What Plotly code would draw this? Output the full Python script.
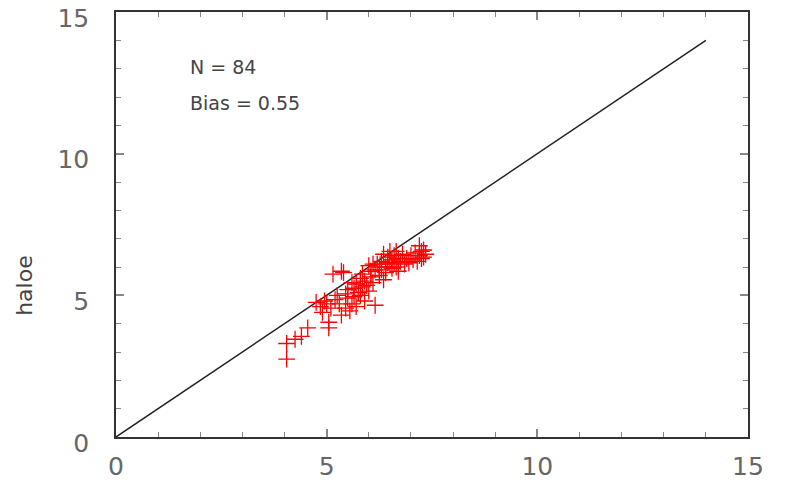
import plotly.graph_objects as go

# Scatter data (reference x, haloe y)
ref_x = [4.05, 4.05, 4.25, 4.40, 4.55, 4.75, 4.90, 5.05, 5.05, 4.95,
         5.10, 5.15, 5.25, 5.30, 5.35, 5.40, 5.45, 5.50, 5.50, 5.55,
         5.60, 5.60, 5.65, 5.70, 5.70, 5.75, 5.80, 5.80, 5.85, 5.90,
         5.90, 5.95, 6.00, 6.00, 6.05, 6.10, 6.15, 6.15, 6.20, 6.25,
         6.30, 6.30, 6.35, 6.40, 6.40, 6.45, 6.50, 6.50, 6.55, 6.55,
         6.60, 6.60, 6.65, 6.65, 6.70, 6.70, 6.75, 6.80, 6.85, 6.90,
         6.95, 7.00, 7.05, 7.10, 7.15, 7.20, 7.20, 7.25, 7.25, 7.30,
         7.30, 7.35, 5.20, 5.45, 5.65, 5.85, 6.05, 6.25, 6.45, 4.85,
         5.00, 5.35, 6.10, 6.35]
haloe_y = [2.75, 3.30, 3.45, 3.55, 3.85, 4.75, 4.40, 3.85, 4.05, 4.80,
           4.55, 5.75, 5.00, 4.70, 4.30, 5.80, 4.55, 4.90, 5.20, 4.45,
           4.70, 5.45, 4.95, 5.40, 4.60, 5.10, 5.00, 5.60, 5.30, 4.80,
           5.50, 5.35, 5.15, 6.05, 5.65, 5.45, 4.65, 5.90, 6.10, 5.70,
           6.20, 5.90, 5.55, 6.00, 5.80, 6.35, 6.55, 6.10, 6.25, 5.95,
           6.40, 6.15, 6.55, 6.00, 6.30, 5.85, 6.20, 6.45, 6.10, 6.30,
           6.15, 6.40, 6.25, 6.50, 6.20, 6.75, 6.40, 6.30, 6.55, 6.35,
           6.60, 6.45, 4.85, 5.05, 5.25, 5.75, 5.85, 6.00, 6.15, 4.60,
           4.70, 5.85, 6.10, 6.45]

# One-to-one line
line_x = [0, 14]
line_y = [0, 14]

x_ticks = [0, 5, 10, 15]
y_ticks = [0, 5, 10, 15]

annot_lines = ["N = 84", "Bias = 0.55"]
annot_y = [13.06, 11.8]

FONT = "DejaVu Sans"
AXC = "#333333"

fig = go.Figure()
fig.add_trace(go.Scatter(x=line_x, y=line_y, mode="lines",
                         line=dict(color="#222222", width=1.5),
                         showlegend=False, hoverinfo="skip"))
fig.add_trace(go.Scatter(x=ref_x, y=haloe_y, mode="markers",
                         marker=dict(symbol="cross-thin-open", size=12,
                                     color="red",
                                     line=dict(color="red", width=1.3)),
                         showlegend=False))

for t, yy in zip(annot_lines, annot_y):
    fig.add_annotation(x=1.7, y=yy, xref="x", yref="y", text=t,
                       showarrow=False, xanchor="left", yanchor="middle",
                       font=dict(family=FONT, size=19, color="#444444"))

fig.add_annotation(x=-0.144, y=0.358, xref="paper", yref="paper",
                   text="haloe", textangle=-90, showarrow=False,
                   xanchor="center", yanchor="middle",
                   font=dict(family=FONT, size=22, color="#444444"))

axis_common = dict(range=[0, 15], showgrid=False, zeroline=False,
                   showline=True, linecolor=AXC, linewidth=1.5,
                   mirror="ticks", ticks="inside", ticklen=8,
                   tickwidth=1.5, tickcolor="#888888",
                   ticklabeloverflow="allow", automargin=False,
                   minor=dict(dtick=1, ticks="inside", ticklen=5,
                              tickwidth=1, tickcolor="#888888", showgrid=False),
                   tickfont=dict(family=FONT, size=25, color="#666666"))

fig.update_xaxes(**axis_common, tickvals=x_ticks,
                 ticktext=[str(v) for v in x_ticks], ticklabelstandoff=6)
fig.update_yaxes(**axis_common, tickvals=y_ticks,
                 ticktext=[str(v) for v in y_ticks], ticklabelstandoff=20,
                 ticklabelshift=6)

fig.update_layout(width=792, height=482,
                  margin=dict(l=116, r=44, t=12, b=45),
                  paper_bgcolor="white", plot_bgcolor="white")

fig.write_html("out.html")
